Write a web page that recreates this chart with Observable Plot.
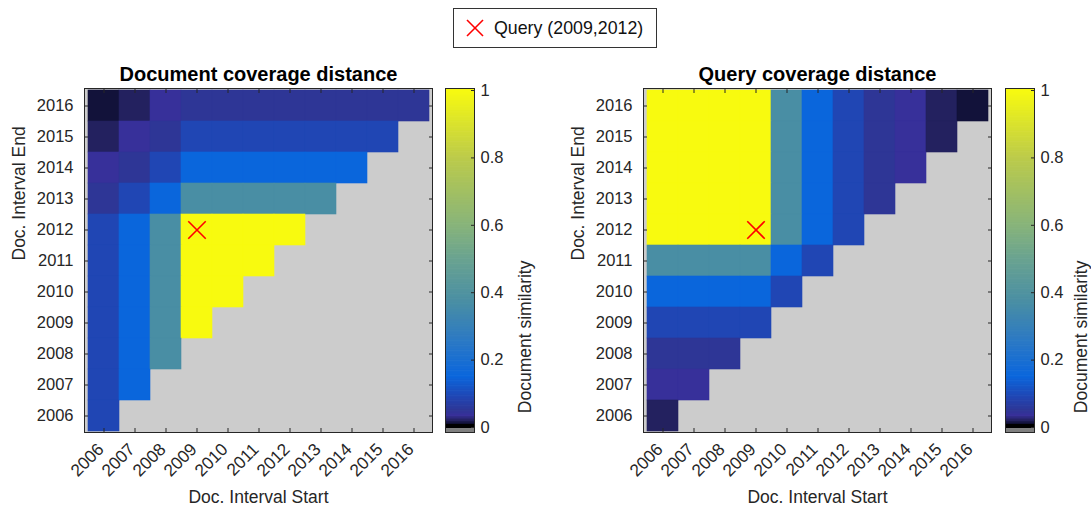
<!DOCTYPE html>
<html>
<head>
<meta charset="utf-8">
<script src="https://cdn.jsdelivr.net/npm/d3@7"></script>
<script src="https://cdn.jsdelivr.net/npm/@observablehq/plot@0.6"></script>
<style>
  body { margin: 0; background: #fff; }
  #root { position: relative; width: 1091px; height: 508px; overflow: hidden; font-family: "Liberation Sans", Arial, Helvetica, sans-serif; }
  .abs { position: absolute; top: 0; }
  #legend { position: absolute; left: 453px; top: 8px; width: 202px; height: 38px; border: 1px solid #333; background: #fff; display: flex; align-items: center; font-size: 17.8px; color: #111; }
  #legend svg { margin-left: 12px; margin-right: 10px; }
</style>
</head>
<body>
<div id="root">
  <div id="legend"><svg width="18" height="18"><line x1="1" y1="1" x2="17" y2="17" stroke="red" stroke-width="1.6"/><line x1="17" y1="1" x2="1" y2="17" stroke="red" stroke-width="1.6"/></svg><span id="legendText"></span></div>
</div>
<script>
// ---- data ----
const years = [2006, 2007, 2008, 2009, 2010, 2011, 2012, 2013, 2014, 2015, 2016];
const endYears = [2016, 2015, 2014, 2013, 2012, 2011, 2010, 2009, 2008, 2007, 2006]; // matrix rows (top to bottom)
const query = [{start: 2009, end: 2012}];
const legendLabel = "Query (2009,2012)";
const titles = ["Document coverage distance", "Query coverage distance"];
const xLabel = "Doc. Interval Start";
const yLabel = "Doc. Interval End";
const cbLabel = "Document similarity";
const cbTicks = [0, 0.2, 0.4, 0.6, 0.8, 1];

// Document coverage distance: rows = end year (2016..2006), cols = start year (2006..2016); null = invalid
const docValues = [
  [0.012, 0.02, 0.035, 0.05, 0.05, 0.05, 0.05, 0.05, 0.05, 0.05, 0.05],
  [0.02, 0.035, 0.05, 0.09, 0.09, 0.09, 0.09, 0.09, 0.09, 0.09, null],
  [0.035, 0.05, 0.09, 0.15, 0.15, 0.15, 0.15, 0.15, 0.15, null, null],
  [0.05, 0.09, 0.15, 0.37, 0.37, 0.37, 0.37, 0.37, null, null, null],
  [0.09, 0.15, 0.37, 1, 1, 1, 1, null, null, null, null],
  [0.09, 0.15, 0.37, 1, 1, 1, null, null, null, null, null],
  [0.09, 0.15, 0.37, 1, 1, null, null, null, null, null, null],
  [0.09, 0.15, 0.37, 1, null, null, null, null, null, null, null],
  [0.09, 0.15, 0.37, null, null, null, null, null, null, null, null],
  [0.09, 0.15, null, null, null, null, null, null, null, null, null],
  [0.09, null, null, null, null, null, null, null, null, null, null]
];
// Query coverage distance
const queryValues = [
  [1, 1, 1, 1, 0.37, 0.15, 0.09, 0.05, 0.035, 0.02, 0.012],
  [1, 1, 1, 1, 0.37, 0.15, 0.09, 0.05, 0.035, 0.02, null],
  [1, 1, 1, 1, 0.37, 0.15, 0.09, 0.05, 0.035, null, null],
  [1, 1, 1, 1, 0.37, 0.15, 0.09, 0.05, null, null, null],
  [1, 1, 1, 1, 0.37, 0.15, 0.09, null, null, null, null],
  [0.37, 0.37, 0.37, 0.37, 0.15, 0.09, null, null, null, null, null],
  [0.15, 0.15, 0.15, 0.15, 0.09, null, null, null, null, null, null],
  [0.09, 0.09, 0.09, 0.09, null, null, null, null, null, null, null],
  [0.05, 0.05, 0.05, null, null, null, null, null, null, null, null],
  [0.035, 0.035, null, null, null, null, null, null, null, null, null],
  [0.02, null, null, null, null, null, null, null, null, null, null]
];

// colormap stops (custom parula-like map)
const cmapStops  = [0.008, 0.012, 0.02, 0.035, 0.05, 0.09, 0.15, 0.25, 0.37, 0.5, 0.6, 0.8, 1];
const cmapColors = ["#0c0c28", "#12123a", "#23215f", "#37309a", "#2e3696", "#2046b4", "#0a66dc", "#2a78c6", "#498ea4", "#6aa390", "#88b47a", "#bccb4a", "#f8fa0f"];
const colorOpt = {type: "linear", domain: cmapStops, range: cmapColors, clamp: true};

const FONT = '"Liberation Sans", Arial, Helvetica, sans-serif';
const root = document.getElementById("root");
document.getElementById("legendText").textContent = legendLabel;

function toCells(matrix) {
  const out = [];
  matrix.forEach((row, i) => row.forEach((v, j) => {
    if (v != null) out.push({start: years[j], end: endYears[i], v});
  }));
  return out;
}

function heatmap(matrix, title, left, mLeft, mRight) {
  const W = 440;
  const p = Plot.plot({
    width: W, height: 508,
    marginLeft: mLeft, marginRight: mRight, marginTop: 88, marginBottom: 76,
    style: {fontFamily: FONT, fontSize: "16.5px", color: "#262626", background: "transparent", overflow: "visible"},
    x: {type: "band", domain: years, padding: 0, label: null},
    y: {type: "band", domain: endYears, padding: 0, label: null},
    color: colorOpt,
    marks: [
      Plot.frame({fill: "#cccccc"}),
      Plot.cell(toCells(matrix), {x: "start", y: "end", fill: "v", stroke: "v", strokeWidth: 0.6}),
      Plot.dot(query, {x: "start", y: "end", symbol: "times", r: 8, stroke: "#ff0000", strokeWidth: 1.6}),
      Plot.axisX({anchor: "bottom", tickSize: 0, tickRotate: -45, tickPadding: 14, dx: -3, fontSize: 17.3, label: null, tickFormat: d => String(d)}),
      Plot.axisX({anchor: "bottom", tickSize: -4, text: null, label: null, stroke: "#262626"}),
      Plot.axisX({anchor: "top", tickSize: -4, text: null, label: null, stroke: "#262626"}),
      Plot.axisY({anchor: "left", tickSize: 0, tickPadding: 11, fontSize: 16.5, label: null, tickFormat: d => String(d)}),
      Plot.axisY({anchor: "left", tickSize: -4, text: null, label: null, stroke: "#262626"}),
      Plot.axisY({anchor: "right", tickSize: -4, text: null, label: null, stroke: "#262626"}),
      Plot.frame({stroke: "#262626", strokeWidth: 1}),
      Plot.text([title], {frameAnchor: "top", dy: -14, fontWeight: "bold", fontSize: 20, fill: "#000", lineAnchor: "middle"}),
      Plot.text([xLabel], {frameAnchor: "bottom", dy: 65, fontSize: 17.5, fill: "#262626", lineAnchor: "middle"}),
      Plot.text([yLabel], {frameAnchor: "left", dx: -65, rotate: -90, fontSize: 17.5, fill: "#262626", lineAnchor: "middle"})
    ]
  });
  p.classList.add("abs");
  p.style.left = left + "px";
  root.appendChild(p);
}

function colorbar(left, W, labelDx) {
  const lo = -0.0148, hi = 1.006;
  const n = 200, v0 = 0.008;
  const bands = d3.range(n).map(i => {
    const a = v0 + (1 - v0) * i / n, b = v0 + (1 - v0) * (i + 1) / n;
    return {a, b: Math.min(hi, b + 0.002), m: (a + b) / 2};
  });
  bands[n - 1].b = hi;
  const p = Plot.plot({
    width: W, height: 508,
    marginLeft: 5, marginRight: W - 5 - 29, marginTop: 88, marginBottom: 76,
    style: {fontFamily: FONT, fontSize: "16.5px", color: "#262626", background: "transparent", overflow: "visible"},
    y: {type: "linear", domain: [lo, hi], label: null},
    color: colorOpt,
    marks: [
      Plot.rect(bands, {y1: "a", y2: "b", fill: "m"}),
      Plot.rect([{a: -0.003, b: v0 + 0.001}], {y1: "a", y2: "b", fill: "#000"}),
      Plot.rect([{a: lo, b: -0.003}], {y1: "a", y2: "b", fill: "#808080"}),
      Plot.axisY(cbTicks, {anchor: "right", tickSize: 0, tickPadding: 6, fontSize: 16.5, label: null, tickFormat: d => String(d)}),
      Plot.axisY(cbTicks, {anchor: "right", tickSize: -4, text: null, label: null, stroke: "#262626"}),
      Plot.frame({stroke: "#262626", strokeWidth: 1}),
      Plot.text([cbLabel], {frameAnchor: "right", dx: labelDx, rotate: -90, fontSize: 17.5, fill: "#262626", lineAnchor: "middle"})
    ]
  });
  p.classList.add("abs");
  p.style.left = left + "px";
  root.appendChild(p);
}

heatmap(docValues, titles[0], 0, 84, 8);
colorbar(440, 100, 51);
heatmap(queryValues, titles[1], 560, 83, 9);
colorbar(1000, 91, 47);
</script>
</body>
</html>
